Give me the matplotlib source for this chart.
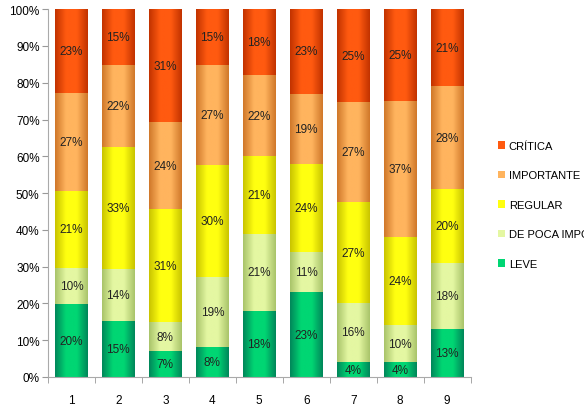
import matplotlib.pyplot as plt
import numpy as np
from matplotlib.colors import LinearSegmentedColormap

plt.rcParams['font.family'] = ['Liberation Sans Narrow', 'Liberation Sans', 'DejaVu Sans']

categories = ['1', '2', '3', '4', '5', '6', '7', '8', '9']
series_names = ['LEVE', 'DE POCA IMPORTANCIA', 'REGULAR', 'IMPORTANTE', 'CRÍTICA']
leve = [20, 15, 7, 8, 18, 23, 4, 4, 13]
poca = [10, 14, 8, 19, 21, 11, 16, 10, 18]
regular = [21, 33, 31, 30, 21, 24, 27, 24, 20]
importante = [27, 22, 24, 27, 22, 19, 27, 37, 28]
critica = [23, 15, 31, 15, 18, 23, 25, 25, 21]

# (edge, centre) colours for the cylinder look
colors = [('#00875a', '#00d673'),
          ('#a9c46a', '#e4f7a2'),
          ('#c9c400', '#ffff10'),
          ('#d0782a', '#ffb45e'),
          ('#c23300', '#ff5a10')]

data = np.array([leve, poca, regular, importante, critica], dtype=float)
share = data / data.sum(axis=0) * 100

fig = plt.figure(figsize=(5.84, 4.06), dpi=100)
ax = fig.add_axes([0.082, 0.069, 0.724, 0.906])

x = np.arange(1, len(categories) + 1)
width = 0.7
bottom = np.zeros(len(categories))
grad = np.linspace(0, 1, 64).reshape(1, -1)
handles = []
for i, name in enumerate(series_names):
    edge, centre = colors[i]
    cmap = LinearSegmentedColormap.from_list(name, [edge, centre, centre, edge])
    bars = ax.bar(x, share[i], width, bottom=bottom, color=centre, edgecolor='none', label=name)
    handles.append(bars)
    for b in bars:
        x0, y0 = b.get_x(), b.get_y()
        im = ax.imshow(grad, cmap=cmap, extent=(x0, x0 + b.get_width(), y0, y0 + b.get_height()),
                       aspect='auto', zorder=2)
        im.set_clip_path(b)
    for xi, b0, h, v in zip(x, bottom, share[i], data[i]):
        ax.text(xi, b0 + h / 2, f'{int(v)}%', ha='center', va='center', fontsize=8.5,
                color='#222222', zorder=3)
    bottom += share[i]

ax.set_xlim(0.5, len(categories) + 0.5)
ax.set_ylim(0, 100)
ax.set_yticks(np.arange(0, 101, 10))
ax.set_yticklabels([f'{v}%' for v in range(0, 101, 10)], fontsize=8.5)
ax.set_xticks(x)
ax.set_xticklabels(categories, fontsize=8.5)
ax.set_xticks(np.arange(0.5, len(categories) + 1, 1), minor=True)
ax.tick_params(axis='x', which='major', length=0, pad=12)
ax.tick_params(axis='x', which='minor', length=4, color='#999999')
ax.tick_params(axis='y', length=4, color='#999999', pad=2)
for s in ['top', 'right']:
    ax.spines[s].set_visible(False)
for s in ['left', 'bottom']:
    ax.spines[s].set_color('#aaaaaa')

leg = fig.legend(handles[::-1], series_names[::-1], loc='upper left',
                 bbox_to_anchor=(0.835, 0.675), frameon=False, fontsize=8,
                 handlelength=0.7, handleheight=0.7, handletextpad=0.3, labelspacing=1.75)

fig.savefig('out.png', dpi=100)
